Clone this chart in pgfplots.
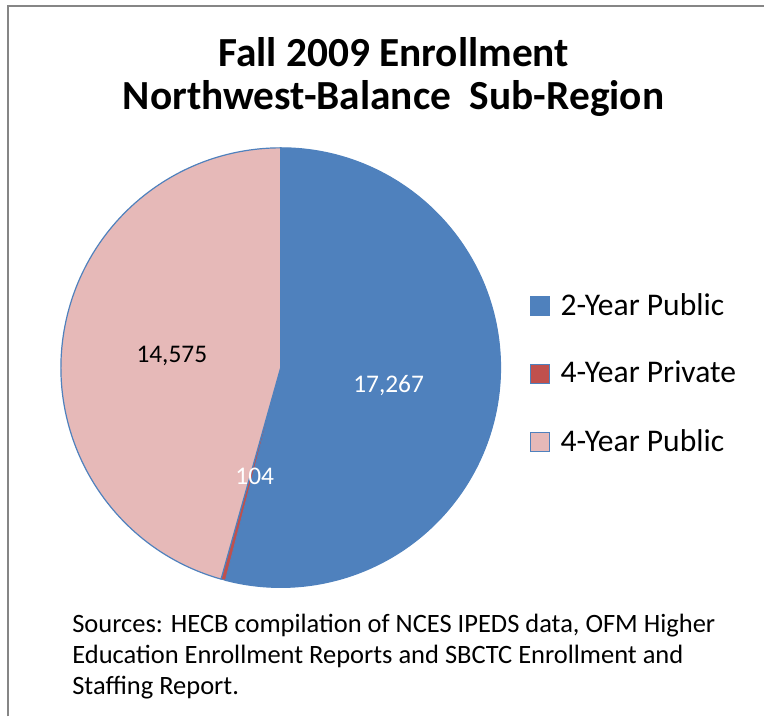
\documentclass[border=0pt]{standalone}
\usepackage{fontspec}
\setmainfont{Carlito}
\usepackage{pgfplots}
\pgfplotsset{compat=1.18}
\definecolor{pieblue}{HTML}{4F81BD}
\definecolor{piered}{HTML}{C0504D}
\definecolor{piepink}{HTML}{E6B9B8}
\definecolor{framegrey}{HTML}{868686}

\pgfplotstableread{
group value
2YPublic 17267
4YPrivate 104
4YPublic 14575
}\enroll

\begin{document}
\begin{tikzpicture}
\pgfplotstablegetelem{0}{value}\of\enroll \edef\vA{\pgfplotsretval}
\pgfplotstablegetelem{1}{value}\of\enroll \edef\vB{\pgfplotsretval}
\pgfplotstablegetelem{2}{value}\of\enroll \edef\vC{\pgfplotsretval}
\edef\aA{\fpeval{90-360*\vA/(\vA+\vB+\vC)}}
\edef\aB{\fpeval{\aA-360*\vB/(\vA+\vB+\vC)}}
\def\R{110pt}
\begin{axis}[
  width=382.5pt, height=358.5pt, scale only axis,
  xmin=0, xmax=765, ymin=0, ymax=717,
  hide axis, clip=false,
  legend cell align=left,
  legend style={at={(axis cs:530,343)}, anchor=west, draw=none, fill=none,
    font=\fontsize{15.8}{18}\selectfont, row sep=17.6pt,
    inner sep=0pt, nodes={inner sep=2pt}},
  legend image code/.code={\draw[#1, line width=0.5pt] (0pt,-4.75pt) rectangle (9.5pt,4.75pt);
    \path (13pt,0pt);},
]
\addlegendimage{fill=pieblue, draw=pieblue}
\addlegendentry{2-Year Public}
\addlegendimage{fill=piered, draw=pieblue}
\addlegendentry{4-Year Private}
\addlegendimage{fill=piepink, draw=pieblue}
\addlegendentry{4-Year Public}

% keep the whole canvas in the bounding box
\path (axis cs:0,0) rectangle (axis cs:765,717);

% frame (only top and left edges visible)
\draw[framegrey, line width=0.8pt] (axis cs:8,0) -- (axis cs:8,711) -- (axis cs:765,711);

% slices, clockwise from the top
\filldraw[fill=pieblue, draw=pieblue, line width=0.6pt] (axis cs:281,349) -- ++(90:\R) arc[start angle=90, end angle=\aA, radius=\R] -- cycle;
\filldraw[fill=piered, draw=pieblue, line width=0.4pt] (axis cs:281,349) -- ++(\aA:\R) arc[start angle=\aA, end angle=\aB, radius=\R] -- cycle;
\filldraw[fill=piepink, draw=pieblue, line width=0.6pt] (axis cs:281,349) -- ++(\aB:\R) arc[start angle=\aB, end angle=-270, radius=\R] -- cycle;

% data labels
\node[anchor=base, white, font=\fontsize{12.7}{15}\selectfont] at (axis cs:389,324) {17,267};
\node[anchor=base, white, font=\fontsize{12.7}{15}\selectfont] at (axis cs:255,232) {104};
\node[anchor=base, black, font=\fontsize{12.7}{15}\selectfont] at (axis cs:172,354) {14,575};

% title
\node[anchor=base, font=\bfseries\fontsize{20.7}{25}\selectfont] at (axis cs:394,650) {Fall 2009 Enrollment};
\node[anchor=base, font=\bfseries\fontsize{20.7}{25}\selectfont] at (axis cs:394,607) {Northwest-Balance\ \ Sub-Region};

% sources
\node[anchor=base west, inner sep=0pt, font=\fontsize{13.25}{15}\selectfont] at (axis cs:72,84) {Sources: HECB compilation of NCES IPEDS data, OFM Higher};
\node[anchor=base west, inner sep=0pt, font=\fontsize{13.25}{15}\selectfont] at (axis cs:72,53) {Education Enrollment Reports and SBCTC Enrollment and};
\node[anchor=base west, inner sep=0pt, font=\fontsize{13.25}{15}\selectfont] at (axis cs:72,22) {Staffing Report.};
\end{axis}
\end{tikzpicture}
\end{document}
